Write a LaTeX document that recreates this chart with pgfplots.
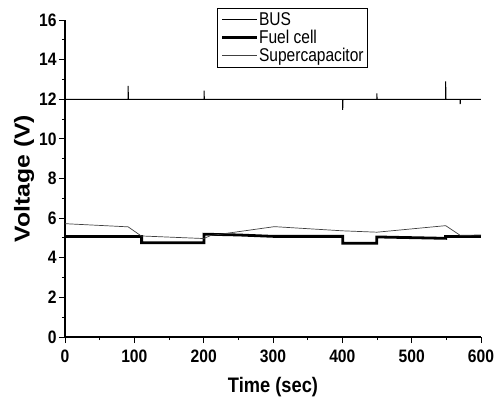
\documentclass[border=0pt]{standalone}
\usepackage{fontspec}
\setmainfont[FakeStretch=0.87]{Liberation Sans}
\newfontfamily\ylfont[FakeStretch=1.15]{Liberation Sans}
\newfontfamily\lgfont[FakeStretch=0.84]{Liberation Sans}
\usepackage{pgfplots}
\pgfplotsset{compat=1.18}
\begin{document}
\begin{tikzpicture}
\path[use as bounding box] (-65pt,-60pt) rectangle (436pt,337pt);
\begin{axis}[
  scale only axis, width=416pt, height=317pt,
  xmin=0, xmax=600, ymin=0, ymax=16,
  axis lines=left, axis line style={-, line width=1.1pt},
  xtick={0,100,...,600}, ytick={0,2,...,16},
  minor xtick={50,150,...,550}, minor ytick={1,3,...,15},
  tick align=outside, major tick length=6pt, minor tick length=3pt,
  tick style={black, line width=0.9pt},
  /pgf/number format/assume math mode=true,
  tick label style={font=\fontsize{18}{20}\selectfont\bfseries},
  xticklabel style={yshift=-3pt},
  yticklabel style={xshift=1pt},
  xlabel={\fontsize{21}{23}\selectfont\bfseries Time (sec)},
  ylabel={\ylfont\fontsize{21.5}{23}\selectfont\bfseries Voltage (V)},
  xlabel style={yshift=-8pt}, ylabel style={yshift=-2pt},
  legend style={at={(0.365,1.038)}, anchor=north west, draw=black, line width=0.7pt,
    font=\lgfont\fontsize{18.5}{19}\selectfont, row sep=2pt, inner sep=3.5pt,
    nodes={inner sep=0.6pt}},
  legend cell align=left,
  legend image code/.code={\draw[#1] (0pt,0pt) -- (35pt,0pt);},
  clip=false,
]
\addplot[black, line width=1pt] coordinates {
(0,12) (91,12) (91,12.67) (91.5,12) (200.5,12) (200.5,12.44) (201,12) (400.5,12) (400.5,11.46) (401,12)
(449.7,12) (449.7,12.3) (450.2,12) (549,12) (549,12.9) (549.5,12) (570,12) (570,11.75) (570.5,12) (600,12)};
\addlegendentry{BUS}
\addplot[black, line width=2.8pt] coordinates {
(0,5.07) (110.5,5.07) (110.5,4.76) (200.5,4.76) (200.5,5.19) (250,5.15) (300,5.08) (400.5,5.08) (400.5,4.73)
(449.7,4.73) (449.7,5.05) (549,4.98) (549,5.07) (600,5.07)};
\addlegendentry{Fuel cell}
\addplot[black!75, line width=0.7pt] coordinates {
(0,5.72) (91,5.56) (110,5.1) (200,4.97) (210,5.12) (302,5.57) (400,5.36) (450,5.29) (549,5.62) (570,5.13) (600,5.15)};
\addlegendentry{Supercapacitor}
\end{axis}
\end{tikzpicture}
\end{document}
